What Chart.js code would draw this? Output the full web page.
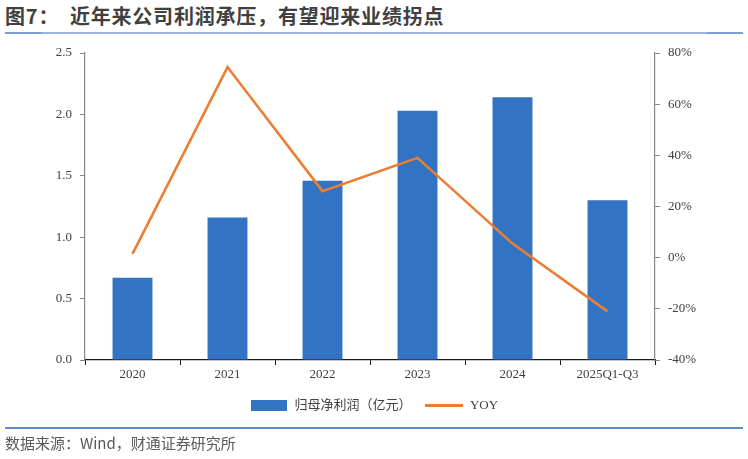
<!DOCTYPE html>
<html>
<head>
<meta charset="utf-8">
<script src="https://cdn.jsdelivr.net/npm/chart.js@4.4.0/dist/chart.umd.min.js"></script>
<style>
  html, body { margin: 0; padding: 0; background: #fff; }
  #wrap { position: relative; width: 748px; height: 459px; overflow: hidden; }
  #c { position: absolute; left: 0; top: 0; }
  .title { position: absolute; left: 5px; top: 2px; font-family: "Noto Sans CJK SC", sans-serif; font-weight: bold; font-size: 20px; letter-spacing: 0.8px; color: #404040; white-space: pre; line-height: 28px; }
  .src { position: absolute; left: 5px; top: 432px; font-family: "Noto Sans CJK SC", sans-serif; font-size: 15px; color: #595959; white-space: pre; line-height: 22px; }
  .rule { position: absolute; }
</style>
</head>
<body>
<div id="wrap">
  <div class="title">图7：  近年来公司利润承压，有望迎来业绩拐点</div>
  <div class="rule" style="left:5px;top:32px;width:738px;height:1.5px;background:#9DB5DD;"></div>
  <div class="rule" style="left:5px;top:31.5px;width:37px;height:2.5px;background:#7F9FD2;"></div>
  <div class="rule" style="left:707px;top:31.5px;width:36px;height:2.5px;background:#7F9FD2;"></div>
  <canvas id="c" width="748" height="459"></canvas>
  <div class="rule" style="left:5px;top:427px;width:738px;height:1.5px;background:#5F8ACB;"></div>
  <div class="src">数据来源：Wind，财通证券研究所</div>
</div>
<script>
const categories = ['2020', '2021', '2022', '2023', '2024', '2025Q1-Q3'];
const netProfit = [0.67, 1.16, 1.46, 2.03, 2.14, 1.30];
const yoy = [1.5, 74.5, 26, 39, 5.5, -21];
const leftTicks = [0, 0.5, 1.0, 1.5, 2.0, 2.5];
const rightTicks = [-40, -20, 0, 20, 40, 60, 80];
const seriesNames = ['归母净利润（亿元）', 'YOY'];

const BAR = '#3273C4';
const LINE = '#ED7D31';

function swatch(w, h, color) {
  const cv = document.createElement('canvas');
  cv.width = w; cv.height = h;
  const g = cv.getContext('2d');
  g.fillStyle = color; g.fillRect(0, 0, w, h);
  return cv;
}
const barSw = swatch(36, 11, BAR);
const lineSw = swatch(38, 3, LINE);

const tickFont = { family: '"Liberation Serif", "Times New Roman", serif', size: 13 };

new Chart(document.getElementById('c'), {
  type: 'bar',
  data: {
    labels: categories,
    datasets: [
      { type: 'bar', label: seriesNames[0], data: netProfit, yAxisID: 'y', backgroundColor: BAR,
        barPercentage: 0.42, categoryPercentage: 1.0, order: 2 },
      { type: 'line', label: seriesNames[1], data: yoy, yAxisID: 'y1', borderColor: LINE, backgroundColor: LINE,
        borderWidth: 2.6, pointRadius: 0, tension: 0, order: 1 }
    ]
  },
  options: {
    responsive: false,
    animation: false,
    devicePixelRatio: 1,
    layout: { padding: { left: 0, right: 0, top: 53, bottom: 37 } },
    plugins: {
      tooltip: { enabled: false },
      legend: {
        position: 'bottom',
        labels: {
          usePointStyle: true,
          pointStyleWidth: 38,
          boxHeight: 11,
          padding: 14,
          color: '#404040',
          font: { family: '"Liberation Serif", "Noto Sans CJK SC", serif', size: 13 },
          generateLabels: (chart) => [
            { text: seriesNames[0], pointStyle: barSw, fillStyle: BAR, strokeStyle: BAR, lineWidth: 0, datasetIndex: 0, hidden: false, fontColor: '#404040' },
            { text: seriesNames[1], pointStyle: lineSw, fillStyle: LINE, strokeStyle: LINE, lineWidth: 0, datasetIndex: 1, hidden: false, fontColor: '#404040' }
          ]
        }
      }
    },
    scales: {
      x: {
        grid: { display: true, drawOnChartArea: false, drawTicks: true, tickLength: 5, color: '#1a1a1a', offset: true },
        border: { display: true, color: '#1a1a1a', width: 1.2 },
        ticks: { color: '#404040', font: tickFont, padding: 2, maxRotation: 0, autoSkip: false },
        afterFit: (s) => { s.height = 25; }
      },
      y: {
        position: 'left',
        min: 0, max: 2.5,
        afterBuildTicks: (s) => { s.ticks = leftTicks.map(v => ({ value: v })); },
        ticks: { color: '#404040', font: tickFont, padding: 8, callback: (v) => Number(v).toFixed(1) },
        grid: { display: true, drawOnChartArea: false, drawTicks: true, tickLength: 5, color: '#878787' },
        border: { display: true, color: '#878787', width: 1.2 },
        afterFit: (s) => { s.width = 85; }
      },
      y1: {
        position: 'right',
        min: -40, max: 80,
        afterBuildTicks: (s) => { s.ticks = rightTicks.map(v => ({ value: v })); },
        ticks: { color: '#404040', font: tickFont, padding: 8, callback: (v) => v + '%' },
        grid: { display: true, drawOnChartArea: false, drawTicks: true, tickLength: 5, color: '#878787' },
        border: { display: true, color: '#878787', width: 1.2 },
        afterFit: (s) => { s.width = 93; }
      }
    }
  }
});
</script>
</body>
</html>
